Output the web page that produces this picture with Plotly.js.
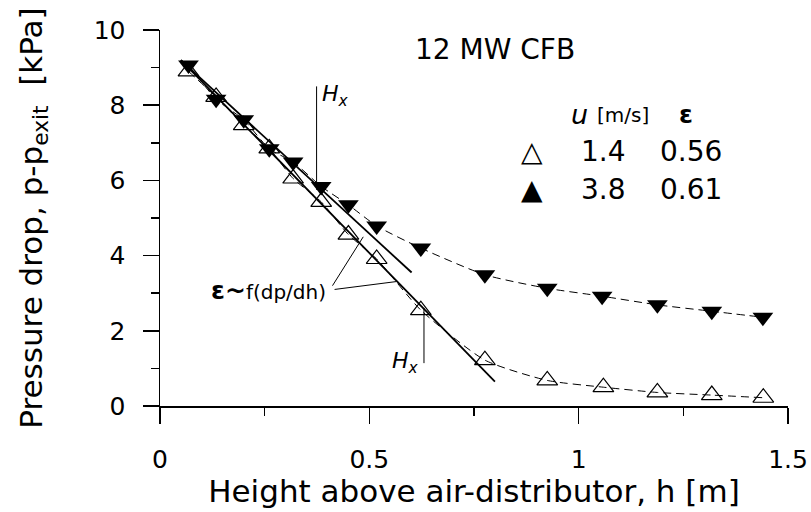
<!DOCTYPE html>
<html>
<head>
<meta charset="utf-8">
<script src="https://cdn.plot.ly/plotly-3.0.1.min.js"></script>
<style>html,body{margin:0;padding:0;background:#fff;}#chart{width:811px;height:512px;}</style>
</head>
<body>
<div id="chart"></div>
<script>
// Series 1: u = 1.4 m/s (open triangles)
const hOpen  = [0.068, 0.134, 0.200, 0.261, 0.318, 0.385, 0.450, 0.5175, 0.623, 0.776, 0.925, 1.059, 1.188, 1.318, 1.441];
const dpOpen = [8.90, 8.22, 7.47, 6.85, 6.05, 5.43, 4.56, 3.91, 2.55, 1.22, 0.68, 0.50, 0.36, 0.29, 0.22];
// Series 2: u = 3.8 m/s (filled triangles)
const hFilled  = [0.068, 0.134, 0.200, 0.261, 0.318, 0.385, 0.450, 0.5175, 0.623, 0.776, 0.925, 1.056, 1.188, 1.318, 1.440];
const dpFilled = [9.07, 8.16, 7.61, 6.84, 6.49, 5.84, 5.35, 4.79, 4.20, 3.49, 3.13, 2.92, 2.69, 2.52, 2.36];
// Straight-line fits (dense zone)
const fitH1 = [0.05, 0.601];
const fitDp1 = [9.2, 3.55];
const fitH2 = [0.05, 0.800];
const fitDp2 = [9.2, 0.65];
// Legend table
const legendHeader = ["<i>u</i>", "[m/s]", "<b>ε</b>"];
const legendU = ["1.4", "3.8"];
const legendEps = ["0.56", "0.61"];
const chartNote = "12 MW CFB";
const xTicks = [0, 0.5, 1, 1.5];
const yTicks = [0, 2, 4, 6, 8, 10];

const FONT = "DejaVu Sans, Arial, sans-serif";

const traces = [
  {x: hOpen, y: dpOpen, mode: "lines", line: {shape: "spline", smoothing: 0.6, dash: "8px,5px", width: 1, color: "#000"}, hoverinfo: "skip", showlegend: false},
  {x: hFilled, y: dpFilled, mode: "lines", line: {shape: "spline", smoothing: 0.6, dash: "8px,5px", width: 1, color: "#000"}, hoverinfo: "skip", showlegend: false},
  {x: fitH1, y: fitDp1, mode: "lines", line: {width: 1.8, color: "#000"}, showlegend: false},
  {x: fitH2, y: fitDp2, mode: "lines", line: {width: 1.8, color: "#000"}, showlegend: false},
  {x: hOpen, y: dpOpen, mode: "markers", name: "1.4", marker: {symbol: "triangle-up-open", size: 18, color: "#000", line: {width: 1.2, color: "#000"}}, showlegend: false},
  {x: hFilled, y: dpFilled, mode: "markers", name: "3.8", marker: {symbol: "triangle-down", size: 18, color: "#000", line: {width: 0}}, showlegend: false}
];

const ann = [];
function A(x, y, text, size, xa, opts) {
  ann.push(Object.assign({x: x, y: y, xref: "x", yref: "y", text: text, showarrow: false,
    font: {family: FONT, size: size, color: "#000"}, xanchor: xa || "center", yanchor: "middle"}, opts || {}));
}
A(0.799, 9.47, chartNote, 28);
A(1.003, 7.74, legendHeader[0], 27);
A(1.106, 7.74, legendHeader[1], 20);
A(1.256, 7.74, legendHeader[2], 25);
A(0.889, 6.77, "△", 28);
A(0.889, 5.75, "▲", 28);
A(1.06, 6.77, legendU[0], 28);
A(1.06, 5.75, legendU[1], 28);
A(1.268, 6.77, legendEps[0], 28);
A(1.268, 5.75, legendEps[1], 28);
A(0.382, 8.27, "<i>H<sub>x</sub></i>", 22, "left");
A(0.623, 1.15, "<i>H<sub>x</sub></i>", 22, "right");
A(0.401, 3.06, "<b><span style='font-size:25px'>ε~</span></b>f(dp/dh)", 20, "right");

const shapes = [
  {type: "line", xref: "x", yref: "y", x0: 0.374, x1: 0.374, y0: 8.5, y1: 5.75, line: {width: 1, color: "#000"}},
  {type: "line", xref: "x", yref: "y", x0: 0.6305, x1: 0.6305, y0: 2.61, y1: 1.14, line: {width: 1, color: "#000"}},
  {type: "line", xref: "x", yref: "y", x0: 0.412, x1: 0.4855, y0: 3.2, y1: 4.5, line: {width: 1, color: "#000"}},
  {type: "line", xref: "x", yref: "y", x0: 0.417, x1: 0.565, y0: 3.1, y1: 3.31, line: {width: 1, color: "#000"}}
];

const layout = {
  width: 811, height: 512,
  margin: {l: 160, r: 23, t: 30, b: 106, pad: 0},
  paper_bgcolor: "#fff", plot_bgcolor: "#fff",
  showlegend: false,
  font: {family: FONT, color: "#000"},
  xaxis: {
    range: [0, 1.5], tickvals: xTicks, ticktext: xTicks.map(String),
    showgrid: false, zeroline: false, showline: true, linecolor: "#000", linewidth: 1.5,
    ticks: "outside", ticklen: 16, tickwidth: 1.5, tickcolor: "#000",
    minor: {ticks: "outside", ticklen: 8, tickwidth: 1.5, tickcolor: "#000", dtick: 0.25, showgrid: false},
    tickfont: {family: FONT, size: 25, color: "#000"}, ticklabelstandoff: 14,
    title: {text: "Height above air-distributor, h [m]", font: {family: FONT, size: 31, color: "#000"}, standoff: 1},
    automargin: false, fixedrange: true
  },
  yaxis: {
    range: [0, 10], tickvals: yTicks, ticktext: yTicks.map(String),
    showgrid: false, zeroline: false, showline: true, linecolor: "#000", linewidth: 1.5,
    ticks: "outside", ticklen: 16, tickwidth: 1.5, tickcolor: "#000",
    minor: {ticks: "outside", ticklen: 8, tickwidth: 1.5, tickcolor: "#000", dtick: 1, showgrid: false},
    tickfont: {family: FONT, size: 25, color: "#000"}, ticklabelstandoff: 12,
    title: {text: "Pressure drop, p-p<sub>exit</sub>  [kPa]", font: {family: FONT, size: 31, color: "#000"}, standoff: 42},
    automargin: false, fixedrange: true
  },
  annotations: ann,
  shapes: shapes
};

Plotly.newPlot("chart", traces, layout, {staticPlot: true, displayModeBar: false});
</script>
</body>
</html>
